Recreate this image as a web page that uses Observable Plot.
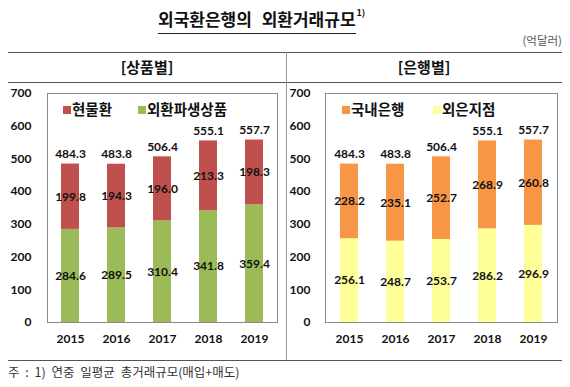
<!DOCTYPE html>
<html>
<head>
<meta charset="utf-8">
<script src="https://cdn.jsdelivr.net/npm/d3@7"></script>
<script src="https://cdn.jsdelivr.net/npm/@observablehq/plot@0.6"></script>
<style>
  body { margin: 0; background: #fff; }
  #wrap { position: relative; width: 570px; height: 387px; overflow: hidden; font-family: "Noto Sans CJK KR", "Noto Sans", sans-serif; color: #111; }
  .abs { position: absolute; }
  .hline { position: absolute; height: 0; border-top: 1px solid #555; }
  .vline { position: absolute; width: 0; border-left: 1px solid #999; }
  .sq { position: absolute; width: 8px; height: 8px; }
  .lg { position: absolute; font-size: 14.5px; font-weight: 700; line-height: 1; white-space: nowrap; }
</style>
</head>
<body>
<div id="wrap">
  <div class="abs" id="title" style="left:158px;top:10px;font-size:17px;font-weight:700;line-height:1;white-space:nowrap;">
    <span style="border-bottom:1.5px solid #222;padding-bottom:2px;word-spacing:6px;">외국환은행의 외환거래규모</span><sup style="font-size:9px;vertical-align:top;position:relative;top:-2px;margin-left:1px;">1)</sup>
  </div>
  <div class="abs" style="right:8px;top:35px;font-size:11.5px;color:#555;line-height:1;">(억달러)</div>
  <div class="hline" style="left:8px;width:554px;top:52px;"></div>
  <div class="hline" style="left:8px;width:554px;top:82px;"></div>
  <div class="hline" style="left:8px;width:554px;top:360px;"></div>
  <div class="vline" style="left:286px;top:52px;height:308px;"></div>
  <div class="abs" style="left:8px;width:278px;top:59px;text-align:center;font-size:15px;font-weight:700;line-height:1;">[상품별]</div>
  <div class="abs" style="left:286px;width:276px;top:59px;text-align:center;font-size:15px;font-weight:700;line-height:1;">[은행별]</div>
  <div id="left" class="abs" style="left:0;top:83px;"></div>
  <div id="right" class="abs" style="left:286px;top:83px;"></div>
  <div id="legends"></div>
  <div class="abs" style="left:8px;top:366px;font-size:12.5px;color:#333;line-height:1;word-spacing:3px;white-space:nowrap;">주 : 1) 연중 일평균 총거래규모(매입+매도)</div>
</div>
<script>
const years = ["2015", "2016", "2017", "2018", "2019"];
const totals = [484.3, 483.8, 506.4, 555.1, 557.7];
// 상품별
const spot = [199.8, 194.3, 196.0, 213.3, 198.3];        // 현물환
const derivatives = [284.6, 289.5, 310.4, 341.8, 359.4]; // 외환파생상품
// 은행별
const domestic = [228.2, 235.1, 252.7, 268.9, 260.8];    // 국내은행
const foreignBr = [256.1, 248.7, 253.7, 286.2, 296.9];   // 외은지점
const yTicks = [0, 100, 200, 300, 400, 500, 600, 700];

const numFont = "Lato, 'Noto Sans', sans-serif";

function makeChart(bottomName, bottomVals, topName, topVals, colors, m) {
  const data = [];
  years.forEach((y, i) => {
    data.push({year: y, series: bottomName, value: bottomVals[i]});
    data.push({year: y, series: topName, value: topVals[i]});
  });
  const tot = years.map((y, i) => ({year: y, total: totals[i]}));
  return Plot.plot({
    width: m.width,
    height: 277,
    marginLeft: m.left,
    marginRight: m.right,
    marginTop: 10,
    marginBottom: 38,
    style: {fontFamily: numFont, fontSize: "12px", fontWeight: "bold", color: "#111", background: "transparent"},
    x: {domain: years, paddingInner: 0.6, paddingOuter: 0.3, label: null},
    y: {domain: [0, 700], label: null},
    color: {domain: [bottomName, topName], range: colors},
    marks: [
      Plot.barY(data, {x: "year", y: "value", fill: "series"}),
      Plot.frame({stroke: "#8c8c8c"}),
      Plot.axisY({ticks: yTicks, tickSize: 0, tickPadding: m.pad, fontSize: 12, fontWeight: "bold", label: null}),
      Plot.axisX({tickSize: 0, tickPadding: 12, fontSize: 12, fontWeight: "bold", label: null}),
      Plot.text(data, Plot.stackY({x: "year", y: "value", text: d => d.value.toFixed(1), fontSize: 12, fontWeight: "bold", fill: "#111"})),
      Plot.text(tot, {x: "year", y: "total", text: d => d.total.toFixed(1), dy: -10, fontSize: 12, fontWeight: "bold", fill: "#111"})
    ]
  });
}

document.getElementById("left").appendChild(
  makeChart("외환파생상품", derivatives, "현물환", spot, ["#9BBB59", "#C0504D"], {width: 286, left: 47, right: 9, pad: 16})
);
document.getElementById("right").appendChild(
  makeChart("외은지점", foreignBr, "국내은행", domestic, ["#FFFF99", "#F79646"], {width: 284, left: 39, right: 13, pad: 15})
);

// legends
const legendItems = [
  {name: "현물환", color: "#C0504D", x: 63},
  {name: "외환파생상품", color: "#9BBB59", x: 138},
  {name: "국내은행", color: "#F79646", x: 342},
  {name: "외은지점", color: "#FFFF99", x: 433}
];
const lg = document.getElementById("legends");
legendItems.forEach(it => {
  const s = document.createElement("div");
  s.className = "sq";
  s.style.left = it.x + "px";
  s.style.top = "106px";
  s.style.background = it.color;
  lg.appendChild(s);
  const t = document.createElement("div");
  t.className = "lg";
  t.style.left = (it.x + 9) + "px";
  t.style.top = "102px";
  t.textContent = it.name;
  lg.appendChild(t);
});
</script>
</body>
</html>
